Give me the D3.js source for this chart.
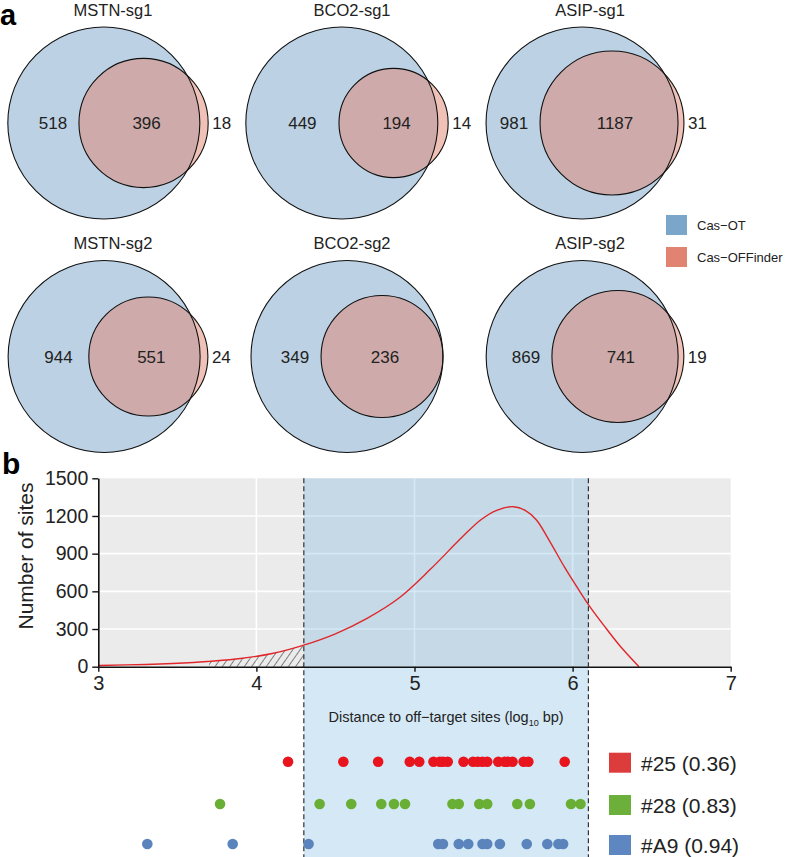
<!DOCTYPE html>
<html>
<head>
<meta charset="utf-8">
<script src="https://cdn.jsdelivr.net/npm/d3@7"></script>
<style>
html,body{margin:0;padding:0;background:#fff;}
svg{display:block;font-family:"Liberation Sans",Arial,Helvetica,sans-serif;}
</style>
</head>
<body>
<svg id="chart" width="787" height="857"></svg>
<script>
// ---------------- DATA ----------------
const vennTitles = ["MSTN-sg1", "BCO2-sg1", "ASIP-sg1", "MSTN-sg2", "BCO2-sg2", "ASIP-sg2"];
const casOTOnly  = [518, 449, 981, 944, 349, 869];
const overlapN   = [396, 194, 1187, 551, 236, 741];
const offOnly    = [18, 14, 31, 24, 0, 19];
const vennLegend = ["Cas\u2212OT", "Cas\u2212OFFinder"];

const curveX = [3.0, 3.3, 3.6, 3.7, 3.9, 4.1, 4.3, 4.5, 4.7, 4.9, 5.1, 5.3, 5.42, 5.52, 5.625, 5.7, 5.77, 5.85, 5.95, 6.05, 6.1, 6.2, 6.3, 6.42];
const curveY = [10, 18, 33, 42, 65, 105, 172, 262, 385, 545, 775, 1030, 1170, 1245, 1274, 1245, 1170, 1010, 790, 590, 495, 325, 165, 0];
const hatchRange = [3.7, 4.3];
const bandRange = [4.3, 6.1];
const xTicks = [3, 4, 5, 6, 7];
const yTicks = [0, 300, 600, 900, 1200, 1500];

const seriesNames = ["#25 (0.36)", "#28 (0.83)", "#A9 (0.94)"];
const sites25 = [4.20, 4.55, 4.77, 4.97, 5.03, 5.12, 5.16, 5.18, 5.21, 5.31, 5.37, 5.40, 5.43, 5.46, 5.53, 5.57, 5.59, 5.62, 5.69, 5.72, 5.95];
const sites28 = [3.77, 4.40, 4.60, 4.79, 4.87, 4.94, 5.24, 5.28, 5.41, 5.46, 5.65, 5.73, 5.99, 6.05];
const sitesA9 = [3.31, 3.85, 4.33, 5.15, 5.18, 5.28, 5.34, 5.43, 5.46, 5.54, 5.71, 5.84, 5.91, 5.94];

// ---------------- STYLE ----------------
const colOT = "#7AA6C9", colOFF = "#E08370";
const dotColors = ["#E8141E", "#6AAF35", "#5B84BD"];
const legColors = ["#DC3C3C", "#6CAF3A", "#5E86C0"];
const FONT = '"Liberation Sans",Arial,Helvetica,sans-serif';

const svg = d3.select("#chart");

// ---------------- PANEL a : Venn ----------------
svg.append("text").attr("x", 0).attr("y", 25).attr("font-size", 29).attr("font-weight", "bold").text("a");

function lensArea(r1, r2, d) {
  if (d >= r1 + r2) return 0;
  if (d <= Math.abs(r1 - r2)) return Math.PI * Math.min(r1, r2) ** 2;
  const a1 = r1 * r1 * Math.acos((d * d + r1 * r1 - r2 * r2) / (2 * d * r1));
  const a2 = r2 * r2 * Math.acos((d * d + r2 * r2 - r1 * r1) / (2 * d * r2));
  const k = 0.5 * Math.sqrt((-d + r1 + r2) * (d + r1 - r2) * (d - r1 + r2) * (d + r1 + r2));
  return a1 + a2 - k;
}

const colCenters = [108, 347, 585];
const rowCenters = [123, 356.5];
const bigR = 96;

const defs = svg.append("defs");

vennTitles.forEach((title, i) => {
  const totalOT = casOTOnly[i] + overlapN[i];
  const totalOFF = overlapN[i] + offOnly[i];
  const rScale = d3.scaleSqrt().domain([0, totalOT]).range([0, bigR]);
  const r1 = rScale(totalOT), r2 = rScale(totalOFF);
  const target = Math.PI * r2 * r2 * overlapN[i] / totalOFF;
  let lo = r1 - r2, hi = r1 + r2;
  for (let k = 0; k < 60; k++) {
    const mid = (lo + hi) / 2;
    if (lensArea(r1, r2, mid) > target) lo = mid; else hi = mid;
  }
  const d = offOnly[i] === 0 ? r1 - r2 : (lo + hi) / 2;
  const width = r1 + d + r2;
  const cx0 = colCenters[i % 3];
  const cy = rowCenters[Math.floor(i / 3)];
  const cx1 = cx0 - width / 2 + r1;
  const cx2 = cx1 + d;

  const g = svg.append("g");
  g.append("circle").attr("cx", cx1).attr("cy", cy).attr("r", r1).attr("fill", colOT).attr("fill-opacity", 0.5);
  g.append("circle").attr("cx", cx2).attr("cy", cy).attr("r", r2).attr("fill", colOFF).attr("fill-opacity", 0.5);
  g.append("circle").attr("cx", cx1).attr("cy", cy).attr("r", r1).attr("fill", "none").attr("stroke", "#111").attr("stroke-width", 1.1);
  g.append("circle").attr("cx", cx2).attr("cy", cy).attr("r", r2).attr("fill", "none").attr("stroke", "#111").attr("stroke-width", 1.1);

  const labY = cy + 6;
  const smallLeft = cx2 - r2;
  const leftX = Math.min(((cx1 - r1) + smallLeft) / 2 + 10, smallLeft - 26);
  g.append("text").attr("x", cx0 + 5).attr("y", cy - 107.5).attr("text-anchor", "middle").attr("font-size", 16.5).attr("fill", "#222").text(title);
  g.append("text").attr("x", leftX).attr("y", labY).attr("text-anchor", "middle").attr("font-size", 17).attr("fill", "#222").text(casOTOnly[i]);
  g.append("text").attr("x", cx2 + 3).attr("y", labY).attr("text-anchor", "middle").attr("font-size", 17).attr("fill", "#222").text(overlapN[i]);
  if (offOnly[i] > 0) {
    g.append("text").attr("x", cx2 + r2 + 4).attr("y", labY).attr("text-anchor", "start").attr("font-size", 17).attr("fill", "#222").text(offOnly[i]);
  }
});

// Venn legend
const vl = svg.append("g");
vennLegend.forEach((name, i) => {
  vl.append("rect").attr("x", 666).attr("y", 215 + i * 32).attr("width", 21).attr("height", 20).attr("fill", i === 0 ? colOT : colOFF);
  vl.append("text").attr("x", 697).attr("y", 225 + i * 32).attr("dy", "0.35em").attr("font-size", 13).attr("fill", "#222").text(name);
});

// ---------------- PANEL b ----------------
svg.append("text").attr("x", 2).attr("y", 474).attr("font-size", 30).attr("font-weight", "bold").text("b");

const x = d3.scaleLinear().domain([3, 7]).range([98.3, 730.7]);
const y = d3.scaleLinear().domain([0, 1500]).range([666.7, 478.3]);

// panel background
svg.append("rect").attr("x", x(3)).attr("y", y(1500)).attr("width", x(7) - x(3)).attr("height", y(0) - y(1500)).attr("fill", "#EBEBEB");
// grid
const grid = svg.append("g");
yTicks.filter(v => v > 0 && v < 1500).forEach(v => {
  grid.append("line").attr("x1", x(3)).attr("x2", x(7)).attr("y1", y(v)).attr("y2", y(v)).attr("stroke", "#fff").attr("stroke-width", 1.6);
});
xTicks.filter(v => v > 3 && v < 7).forEach(v => {
  grid.append("line").attr("x1", x(v)).attr("x2", x(v)).attr("y1", y(0)).attr("y2", y(1500)).attr("stroke", "#fff").attr("stroke-width", 1.6);
});

// blue band
svg.append("rect").attr("x", x(bandRange[0])).attr("y", y(1500)).attr("width", x(bandRange[1]) - x(bandRange[0])).attr("height", 857 - y(1500))
  .attr("fill", "rgb(83,163,215)").attr("fill-opacity", 0.25);

// hatch pattern
const pat = defs.append("pattern").attr("id", "hatch").attr("patternUnits", "userSpaceOnUse").attr("width", 6).attr("height", 6)
  .attr("patternTransform", "rotate(35)");
pat.append("line").attr("x1", 0).attr("y1", 0).attr("x2", 0).attr("y2", 6).attr("stroke", "#111").attr("stroke-width", 1);

const curveFn = d3.curveCatmullRom.alpha(0.5);
const pts = curveX.map((v, i) => [v, curveY[i]]);
const hatchPts = pts.filter(p => p[0] >= hatchRange[0] && p[0] <= hatchRange[1]);
svg.append("path").datum(hatchPts)
  .attr("d", d3.area().x(p => x(p[0])).y0(y(0)).y1(p => y(p[1])).curve(curveFn))
  .attr("fill", "url(#hatch)");

svg.append("path").datum(pts)
  .attr("d", d3.line().x(p => x(p[0])).y(p => y(p[1])).curve(curveFn))
  .attr("fill", "none").attr("stroke", "#E0262A").attr("stroke-width", 1.4);

// axes
const xAxis = svg.append("g").attr("transform", `translate(0,${y(0)})`)
  .call(d3.axisBottom(x).tickValues(xTicks).tickSize(5).tickSizeOuter(0).tickPadding(4).tickFormat(d3.format("d")));
xAxis.selectAll("text").attr("font-size", 20).attr("font-family", FONT).attr("fill", "#222");
xAxis.select(".domain").attr("stroke", "#111").attr("stroke-width", 1.6);
xAxis.selectAll(".tick line").attr("stroke", "#111").attr("stroke-width", 1.4);

const yAxis = svg.append("g").attr("transform", `translate(${x(3)},0)`)
  .call(d3.axisLeft(y).tickValues(yTicks).tickSize(6).tickSizeOuter(0).tickPadding(4).tickFormat(d3.format("d")));
yAxis.selectAll("text").attr("font-size", 19.5).attr("font-family", FONT).attr("fill", "#222");
yAxis.select(".domain").attr("stroke", "#111").attr("stroke-width", 1.6);
yAxis.selectAll(".tick line").attr("stroke", "#111").attr("stroke-width", 1.4);

svg.append("text").attr("transform", `translate(33,556) rotate(-90)`).attr("text-anchor", "middle").attr("font-size", 21).attr("fill", "#222").text("Number of sites");

// dashed lines
bandRange.forEach(v => {
  svg.append("line").attr("x1", x(v)).attr("x2", x(v)).attr("y1", y(1500)).attr("y2", 857)
    .attr("stroke", "#333").attr("stroke-width", 1.2).attr("stroke-dasharray", "5,3");
});

// x axis title
const xt = svg.append("text").attr("x", (x(bandRange[0]) + x(bandRange[1])) / 2).attr("y", 722).attr("text-anchor", "middle").attr("font-size", 14.5).attr("fill", "#222");
xt.append("tspan").text("Distance to off\u2212target sites (log");
xt.append("tspan").attr("font-size", 9).attr("dy", 4).text("10");
xt.append("tspan").attr("dy", -4).text(" bp)");

// dots
const rowsY = [761.7, 804, 844];
[sites25, sites28, sitesA9].forEach((arr, k) => {
  svg.append("g").selectAll("circle").data(arr).join("circle")
    .attr("cx", d => x(d)).attr("cy", rowsY[k]).attr("r", 5.3).attr("fill", dotColors[k]);
});

// legend b
seriesNames.forEach((name, k) => {
  svg.append("rect").attr("x", 609).attr("y", rowsY[k] - 9).attr("width", 22).attr("height", 20).attr("fill", legColors[k]);
  svg.append("text").attr("x", 641).attr("y", rowsY[k] + 2).attr("dy", "0.35em").attr("font-size", 21).attr("fill", "#222").text(name);
});
</script>
</body>
</html>
